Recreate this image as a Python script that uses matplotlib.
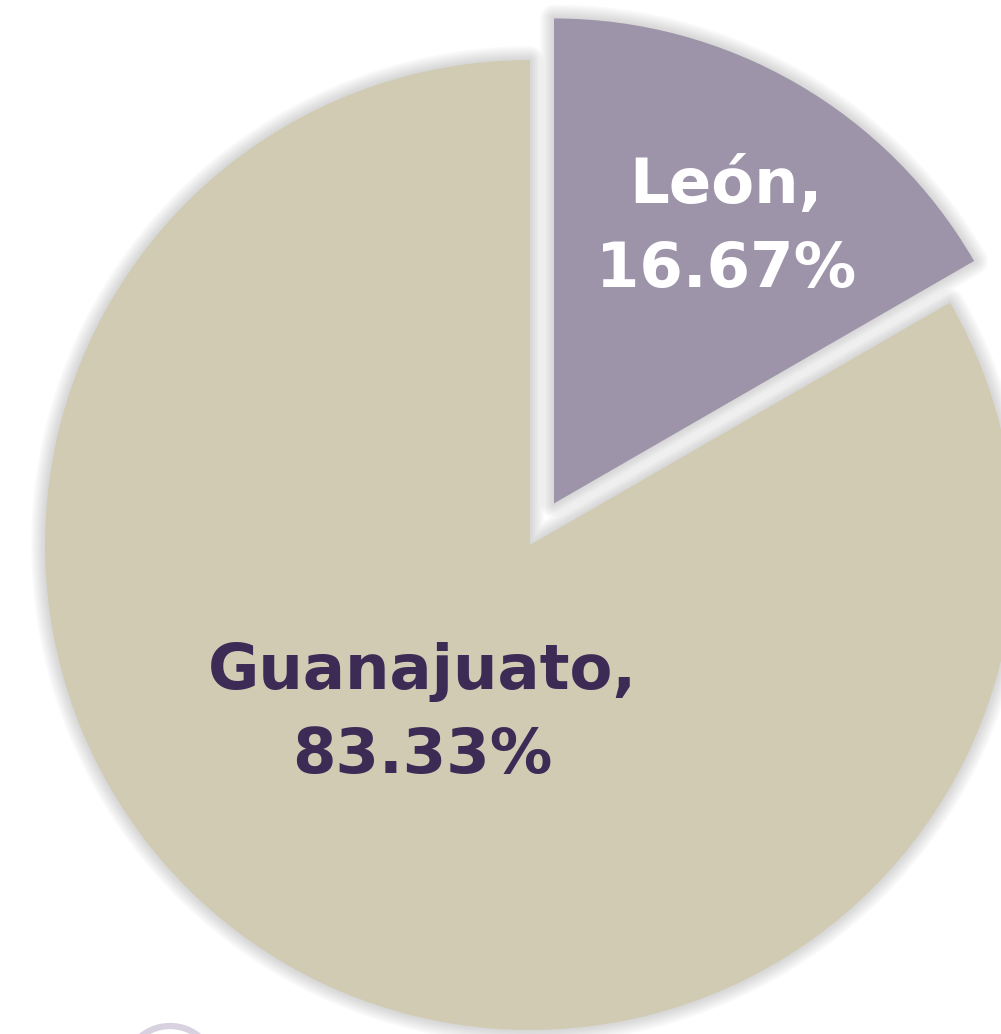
import matplotlib.pyplot as plt
from matplotlib.patches import Wedge, Circle

# data
labels = ["León", "Guanajuato"]
shares = [16.67, 83.33]
colors = ["#9E94AA", "#D1CBB4"]
text_colors = ["white", "#3D2B56"]

W, H = 1001, 1034
fig = plt.figure(figsize=(W / 100, H / 100), dpi=100)
ax = fig.add_axes([0, 0, 1, 1])

center = (530, H - 545)
radius = 485

wedges, _ = ax.pie(shares, colors=colors, startangle=90, counterclock=False,
                   explode=[48, 0], center=center, radius=radius,
                   wedgeprops=dict(linewidth=0, zorder=2), frame=True)
ax.axis("off")
ax.set_xlim(0, W)
ax.set_ylim(0, H)
ax.set_aspect("equal")

# soft shadow around each wedge (stacked strokes, widest first)
for w in wedges:
    for lw in range(20, 1, -2):
        sh = Wedge(w.center, w.r, w.theta1, w.theta2, facecolor="none",
                   edgecolor="#8c8c8c", linewidth=lw, alpha=0.035, zorder=1,
                   joinstyle="round")
        ax.add_patch(sh)

# labels
ax.text(726, H - 228, f"{labels[0]},\n{shares[0]:.2f}%", ha="center", va="center",
        fontsize=45, fontweight="bold", color=text_colors[0],
        family="DejaVu Sans", linespacing=1.5, zorder=3)
ax.text(422, H - 714, f"{labels[1]},\n{shares[1]:.2f}%", ha="center", va="center",
        fontsize=45, fontweight="bold", color=text_colors[1],
        family="DejaVu Sans", linespacing=1.5, zorder=3)

# ring peeking in at the bottom
ax.add_patch(Circle((170, H - 1072), 46, facecolor="none", edgecolor="#D8D1E0",
                    linewidth=4.5, zorder=3, clip_on=False))

fig.savefig("out.png", dpi=100)
